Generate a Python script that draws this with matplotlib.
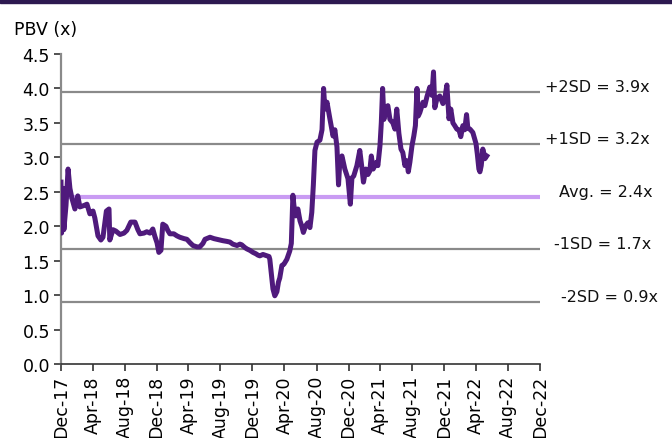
import numpy as np
import pandas as pd
import matplotlib
matplotlib.use('Agg')
import matplotlib.pyplot as plt
import matplotlib.dates as mdates

# PBV series
dates = [
  '2017-12-01', '2017-12-03', '2017-12-09', '2017-12-12', '2017-12-20', '2017-12-28',
  '2018-01-04', '2018-01-12', '2018-01-23', '2018-02-03', '2018-02-11', '2018-02-26',
  '2018-03-10', '2018-03-21', '2018-04-02', '2018-04-09', '2018-04-21', '2018-05-02',
  '2018-05-10', '2018-05-23', '2018-06-02', '2018-06-05', '2018-06-17', '2018-06-28',
  '2018-07-14', '2018-07-29', '2018-08-09', '2018-08-24', '2018-09-09', '2018-09-20',
  '2018-09-28', '2018-10-13', '2018-10-24', '2018-11-05', '2018-11-16', '2018-11-24',
  '2018-12-02', '2018-12-09', '2018-12-17', '2018-12-24', '2019-01-05', '2019-01-12',
  '2019-01-20', '2019-02-04', '2019-02-16', '2019-02-27', '2019-03-15', '2019-03-26',
  '2019-04-07', '2019-04-18', '2019-05-03', '2019-05-14', '2019-05-26', '2019-06-03',
  '2019-06-22', '2019-07-07', '2019-07-18', '2019-07-30', '2019-08-10', '2019-08-25',
  '2019-09-06', '2019-09-17', '2019-10-03', '2019-10-14', '2019-10-21', '2019-11-02',
  '2019-11-10', '2019-11-21', '2019-12-03', '2019-12-14', '2019-12-22', '2019-12-29',
  '2020-01-10', '2020-01-25', '2020-02-02', '2020-02-05', '2020-02-11', '2020-02-17',
  '2020-02-24', '2020-03-03', '2020-03-09', '2020-03-14', '2020-03-22', '2020-03-30',
  '2020-04-10', '2020-04-21', '2020-04-27', '2020-05-03', '2020-05-07', '2020-05-14',
  '2020-05-22', '2020-05-30', '2020-06-06', '2020-06-12', '2020-06-21', '2020-06-29',
  '2020-07-07', '2020-07-14', '2020-07-20', '2020-07-26', '2020-08-03', '2020-08-14',
  '2020-08-22', '2020-08-28', '2020-09-02', '2020-09-10', '2020-09-21', '2020-10-03',
  '2020-10-10', '2020-10-18', '2020-10-24', '2020-10-29', '2020-11-06', '2020-11-17',
  '2020-11-29', '2020-12-08', '2020-12-14', '2020-12-21', '2021-01-02', '2021-01-13',
  '2021-01-21', '2021-01-27', '2021-02-05', '2021-02-13', '2021-02-20', '2021-02-26',
  '2021-03-05', '2021-03-18', '2021-03-23', '2021-03-31', '2021-04-05', '2021-04-10',
  '2021-04-15', '2021-04-19', '2021-04-30', '2021-05-08', '2021-05-19', '2021-05-27',
  '2021-06-03', '2021-06-11', '2021-06-19', '2021-06-26', '2021-07-04', '2021-07-11',
  '2021-07-17', '2021-07-23', '2021-07-31', '2021-08-07', '2021-08-13', '2021-08-19',
  '2021-08-24', '2021-08-30', '2021-09-11', '2021-09-18', '2021-09-26', '2021-10-07',
  '2021-10-15', '2021-10-21', '2021-10-26', '2021-11-03', '2021-11-14', '2021-11-26',
  '2021-12-03', '2021-12-11', '2021-12-19', '2021-12-26', '2022-01-03', '2022-01-10',
  '2022-01-18', '2022-01-26', '2022-02-02', '2022-02-10', '2022-02-17', '2022-02-24',
  '2022-03-01', '2022-03-09', '2022-03-20', '2022-04-01', '2022-04-06', '2022-04-12',
  '2022-04-16', '2022-04-21', '2022-04-27', '2022-05-05', '2022-05-12',
]
pbv = [
  2.64, 1.90, 2.55, 1.95, 2.30, 2.83,
  2.55, 2.40, 2.25, 2.44, 2.28, 2.30,
  2.32, 2.18, 2.22, 2.12, 1.86, 1.80,
  1.84, 2.22, 2.25, 1.80, 1.95, 1.93,
  1.88, 1.90, 1.94, 2.06, 2.06, 1.95,
  1.89, 1.90, 1.92, 1.90, 1.96, 1.85,
  1.76, 1.62, 1.65, 2.03, 2.00, 1.94,
  1.89, 1.89, 1.86, 1.84, 1.82, 1.81,
  1.76, 1.72, 1.70, 1.70, 1.75, 1.81,
  1.84, 1.82, 1.81, 1.80, 1.79, 1.78,
  1.77, 1.74, 1.72, 1.74, 1.73, 1.69,
  1.67, 1.65, 1.62, 1.60, 1.58, 1.57,
  1.59, 1.57, 1.56, 1.52, 1.30, 1.09,
  0.99, 1.05, 1.19, 1.25, 1.43, 1.45,
  1.52, 1.64, 1.75, 2.45, 2.30, 2.15,
  2.25, 2.08, 2.00, 1.91, 2.01, 2.05,
  1.98, 2.20, 2.60, 3.10, 3.22, 3.25,
  3.40, 4.00, 3.70, 3.80, 3.56, 3.31,
  3.40, 3.15, 2.60, 2.95, 3.02, 2.83,
  2.69, 2.32, 2.70, 2.73, 2.88, 3.10,
  2.85, 2.64, 2.83, 2.75, 2.80, 3.02,
  2.83, 2.93, 2.88, 3.17, 3.50, 4.00,
  3.55, 3.70, 3.75, 3.55, 3.50, 3.41,
  3.70, 3.35, 3.12, 3.07, 2.88, 2.95,
  2.79, 2.93, 3.17, 3.31, 3.46, 4.00,
  3.60, 3.65, 3.80, 3.75, 3.88, 4.02,
  3.90, 4.24, 3.72, 3.85, 3.89, 3.78,
  3.85, 4.05, 3.56, 3.70, 3.50, 3.46,
  3.41, 3.40, 3.30, 3.46, 3.40, 3.62,
  3.42, 3.41, 3.36, 3.20, 3.05, 2.83,
  2.79, 2.88, 3.12, 2.98, 3.02,
]

band_values = [3.95, 3.19, 2.43, 1.67, 0.90]
band_labels = ['+2SD = 3.9x', '+1SD = 3.2x', 'Avg. = 2.4x', '-1SD = 1.7x', '-2SD = 0.9x']
label_x = [545, 545, 559, 554, 561]  # left edge of each label, px

LINE = '#4f1a7c'
AVG = '#c99bf3'
GREY = '#8a8a8a'

plt.rcParams['font.family'] = ['DejaVu Sans']

W, H = 672, 439
fig = plt.figure(figsize=(W/100, H/100), dpi=100)
ax = fig.add_axes([61/W, 1 - 365/H, (540-61)/W, (365-55)/H])

x = pd.to_datetime(dates)

# band lines + labels on the right
for v, lab, lx in zip(band_values, band_labels, label_x):
  is_avg = lab.startswith('Avg')
  ax.axhline(v, color=AVG if is_avg else GREY, lw=3 if is_avg else 1.6, zorder=1)
  ax.text(1 + (lx - 540)/479, v + 0.08, lab, transform=ax.get_yaxis_transform(),
          fontsize=11.5, va='center', ha='left', color='#111111')

ax.plot(x, pbv, color=LINE, lw=3.6, zorder=3, solid_joinstyle='round')

ax.set_ylim(0, 4.5)
yt = np.arange(0, 4.51, 0.5)
ax.set_yticks(yt)
ax.set_yticklabels([f'{t:.1f}' for t in yt])
ax.set_xlim(pd.Timestamp('2017-12-01'), pd.Timestamp('2022-12-01'))
ax.xaxis.set_major_locator(mdates.MonthLocator(bymonth=[4, 8, 12]))
ax.xaxis.set_major_formatter(mdates.DateFormatter('%b-%y'))
plt.setp(ax.get_xticklabels(), rotation=90)

for s in ['top', 'right']:
  ax.spines[s].set_visible(False)
ax.spines['left'].set_color(GREY)
ax.spines['left'].set_linewidth(1.6)
ax.spines['bottom'].set_color('#333333')
ax.spines['bottom'].set_linewidth(1.2)
ax.tick_params(axis='both', direction='out', length=5, width=1.2, color='#333333', labelsize=12.5, pad=3)

fig.text(14/W, 1 - 30/H, 'PBV (x)', fontsize=12.5, va='center', ha='left')

# top banner
fig.patches.append(plt.Rectangle((0, 1 - 4/H), 1, 4/H, transform=fig.transFigure,
                                 color='#2d1950', zorder=0))

fig.savefig('out.png', dpi=100)
